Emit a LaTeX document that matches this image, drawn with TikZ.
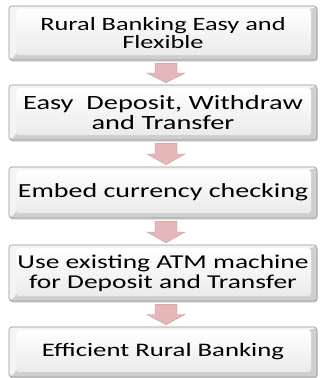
\documentclass[tikz,border=0pt]{standalone}
\usepackage{fontspec}
\setmainfont{Carlito}[FakeStretch=1.4]
\usetikzlibrary{calc,shadows}
\definecolor{arrowfill}{RGB}{230,183,184}
\definecolor{arrowedge}{RGB}{205,150,150}
\definecolor{boxedge}{RGB}{150,150,150}
\tikzset{
  stepbox/.style={
    draw=boxedge, line width=0.6pt, rounded corners=3pt,
    minimum width=308pt, inner sep=0pt, align=center, text=black,
    drop shadow={opacity=0.35, shadow xshift=0.6pt, shadow yshift=-1.6pt},
    path picture={
      \fill[gray!38] (path picture bounding box.south west) rectangle (path picture bounding box.north east);
      \fill[gray!9] (path picture bounding box.south west) -- (path picture bounding box.north west)
        -- (path picture bounding box.north east) -- ($(path picture bounding box.north east)+(-6pt,-3pt)$)
        -- ($(path picture bounding box.north west)+(7pt,-3pt)$) -- ($(path picture bounding box.south west)+(7pt,5pt)$) -- cycle;
      \shade[top color=white, bottom color=gray!16] ($(path picture bounding box.south west)+(7pt,5pt)$)
        rectangle ($(path picture bounding box.north east)+(-6pt,-3pt)$);
    }
  },
  blockarrow/.style={fill=arrowfill, draw=arrowedge, line width=0.4pt}
}
\newcommand\downarrowbetween[2]{%
  \path let \p1=($(#1.south)+(3pt,-3pt)$), \p2=($(#2.north)+(3pt,2pt)$) in
    [blockarrow] (\x1-11pt,\y1) -- (\x1+11pt,\y1) -- (\x1+11pt,{(\y1+\y2)/2}) -- (\x1+19pt,{(\y1+\y2)/2})
    -- (\x1,\y2) -- (\x1-19pt,{(\y1+\y2)/2}) -- (\x1-11pt,{(\y1+\y2)/2}) -- cycle;}
\begin{document}
\begin{tikzpicture}[x=1pt,y=-1pt]
\useasboundingbox[fill=white] (0,0) rectangle (321,378);
\node[stepbox, minimum height=54pt, font=\fontsize{18.8}{18.5}\selectfont] (b1) at (163,33)
  {Rural Banking Easy and\\Flexible};
\node[stepbox, minimum height=55pt, font=\fontsize{20.3}{19.5}\selectfont] (b2) at (163,112.5)
  {Easy\ \ Deposit, Withdraw\\and Transfer};
\node[stepbox, minimum height=51pt, font=\fontsize{20}{20}\selectfont] (b3) at (163,192.5)
  {Embed currency checking};
\node[stepbox, minimum height=56pt, font=\fontsize{19.6}{20}\selectfont] (b4) at (163,273)
  {Use existing ATM machine\\for Deposit and Transfer};
\node[stepbox, minimum height=50pt, font=\fontsize{19.1}{19}\selectfont] (b5) at (163,352)
  {Efficient Rural Banking};
\downarrowbetween{b1}{b2}
\downarrowbetween{b2}{b3}
\downarrowbetween{b3}{b4}
\downarrowbetween{b4}{b5}
\end{tikzpicture}
\end{document}
